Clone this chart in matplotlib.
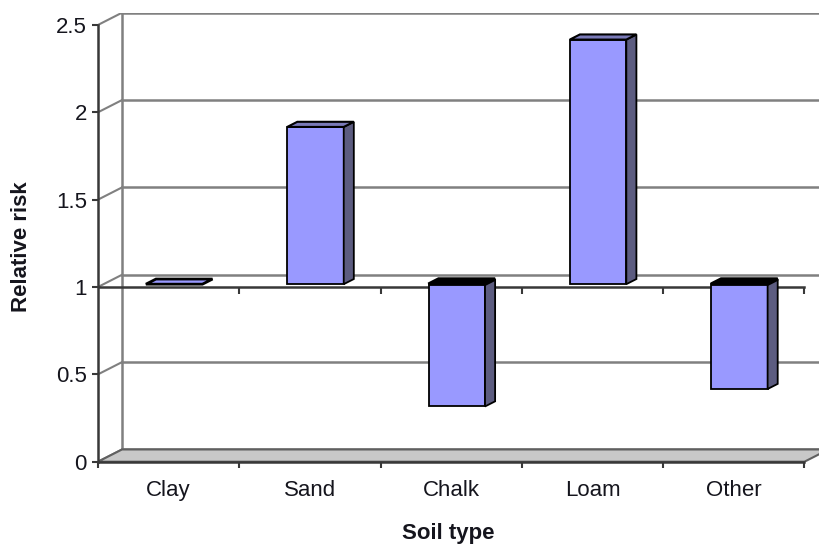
import matplotlib
matplotlib.use("Agg")
import matplotlib.pyplot as plt
from matplotlib.patches import Polygon
import numpy as np

plt.rcParams['font.family'] = ['Liberation Sans', 'DejaVu Sans']

# data
soil_types = ["Clay", "Sand", "Chalk", "Loam", "Other"]
relative_risk = [1.0, 1.9, 0.3, 2.4, 0.4]
y_ticks = [0, 0.5, 1, 1.5, 2, 2.5]
y_tick_labels = ["0", "0.5", "1", "1.5", "2", "2.5"]
baseline = 1.0

# fake 3d depth (data units)
DX, DY = 0.17, 0.07          # whole floor depth
FRONT = 0.23                 # where the bar front sits inside the depth
BAR_DEPTH = 0.42
BAR_W = 0.4

FRONT_C = "#9999ff"
SIDE_C = "#5c5c80"
TOP_C = "#7a7ab8"
GRID_C = "#808080"
AXIS_C = "#383838"
TEXT_C = "#15151d"

fig = plt.figure(figsize=(8.19, 5.5), dpi=100)
ax = fig.add_axes([98 / 819, 88.3 / 550, 730.5 / 819, 449 / 550])
n = len(soil_types)
ax.set_xlim(0, n + DX)
ax.set_ylim(0, y_ticks[-1] + DY)

# back wall gridlines + left wall diagonals
for yv in y_ticks:
    ax.plot([DX, n + DX], [yv + DY, yv + DY], color=GRID_C, lw=1.8, zorder=1)
    ax.plot([0, DX], [yv, yv + DY], color=GRID_C, lw=1.5, zorder=1)
ax.plot([DX, DX], [DY, y_ticks[-1] + DY], color=GRID_C, lw=1.8, zorder=1)

# floor
floor = Polygon([(0, 0), (n, 0), (n + DX, DY), (DX, DY)], closed=True,
                facecolor="#c8c8c8", edgecolor="#606060", lw=1.5, zorder=1.5)
ax.add_patch(floor)

# category axis crossing at 1
bounds = np.arange(n + 1)
ax.plot([0, n], [baseline, baseline], color=AXIS_C, lw=1.8, zorder=2)
ax.plot(bounds[1:], [baseline] * n, linestyle="none", marker=3,
        markersize=5, color=AXIS_C, mew=1.5, zorder=2)

# bars with a little depth
fx, fy = FRONT * DX, FRONT * DY
bx, by = BAR_DEPTH * DX, BAR_DEPTH * DY
centers = np.arange(n) + 0.5
heights = [v - baseline for v in relative_risk]
ax.bar(centers + fx, heights, width=BAR_W, bottom=baseline + fy,
       color=FRONT_C, edgecolor="black", lw=1.3, zorder=4)

for c, v in zip(centers, relative_risk):
    x0 = c - BAR_W / 2 + fx
    x1 = c + BAR_W / 2 + fx
    lo = min(v, baseline) + fy
    hi = max(v, baseline) + fy
    if v != baseline:
        side = Polygon([(x1, lo), (x1 + bx, lo + by), (x1 + bx, hi + by), (x1, hi)],
                       closed=True, facecolor=SIDE_C, edgecolor="black", lw=1.3, zorder=4)
        ax.add_patch(side)
    if v > baseline:
        top_c, top_lw = TOP_C, 1.5
    elif v < baseline:
        top_c, top_lw = "black", 2.5
    else:
        top_c, top_lw = FRONT_C, 2.0
    top = Polygon([(x0, hi), (x1, hi), (x1 + bx, hi + by), (x0 + bx, hi + by)],
                  closed=True, facecolor=top_c, edgecolor="black", lw=top_lw, zorder=5)
    ax.add_patch(top)

# spines / ticks
for s in ["top", "right"]:
    ax.spines[s].set_visible(False)
ax.spines["left"].set_bounds(0, y_ticks[-1])
ax.spines["bottom"].set_bounds(0, n)
for s in ["left", "bottom"]:
    ax.spines[s].set_color(AXIS_C)
    ax.spines[s].set_linewidth(1.8)
    ax.spines[s].set_zorder(3)

ax.set_yticks(y_ticks)
ax.set_yticklabels(y_tick_labels)
ax.tick_params(axis="y", direction="out", length=4, width=1.5, color=AXIS_C,
               pad=4, labelsize=16, labelcolor=TEXT_C)

ax.set_xticks(bounds)
ax.set_xticklabels([])
ax.set_xticks(centers, minor=True)
ax.set_xticklabels(soil_types, minor=True)
ax.tick_params(axis="x", which="major", direction="out", length=4, width=1.5, color=AXIS_C)
ax.tick_params(axis="x", which="minor", length=0, pad=13, labelsize=16, labelcolor=TEXT_C)

fig.text(22 / 819, 1 - 247 / 550, "Relative risk", rotation=90, ha="center", va="center",
         fontsize=16, fontweight="bold", color=TEXT_C)
fig.text(448 / 819, 1 - 533 / 550, "Soil type", ha="center", va="center",
         fontsize=16, fontweight="bold", color=TEXT_C)

fig.savefig("out.png", dpi=100)
